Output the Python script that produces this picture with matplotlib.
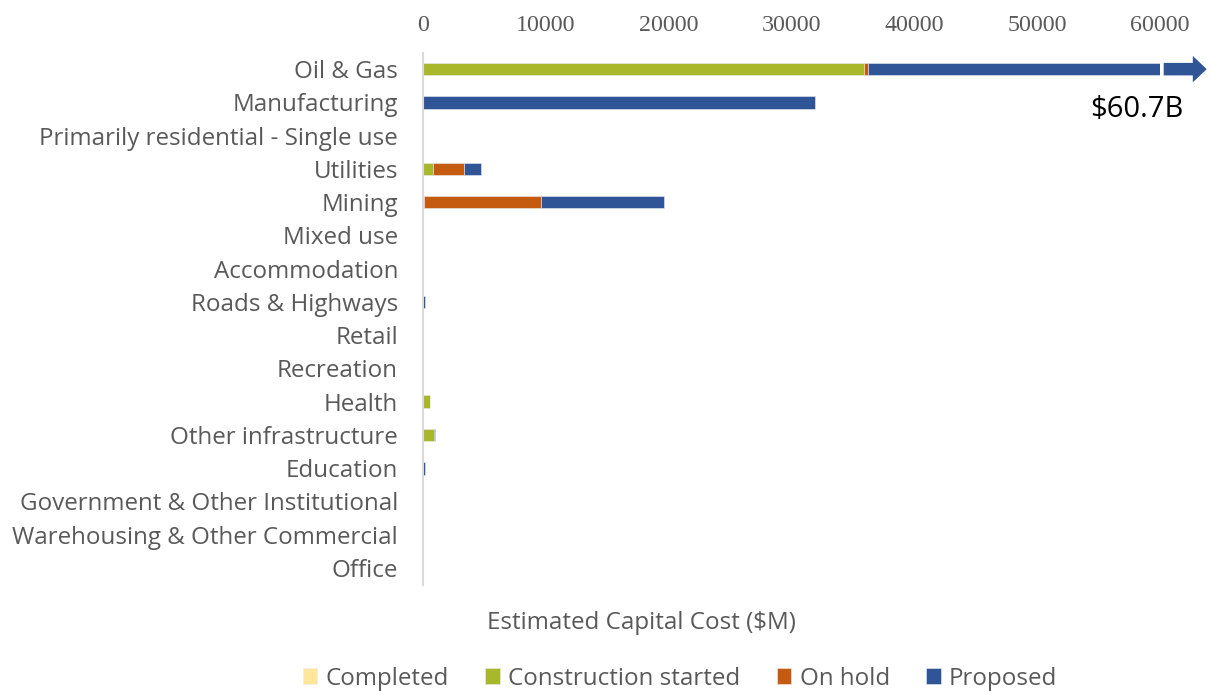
import matplotlib.pyplot as plt
import numpy as np

plt.rcParams['font.family'] = ['Open Sans', 'DejaVu Sans']

# Datos
categorias = ["Oil & Gas", "Manufacturing", "Primarily residential - Single use",
              "Utilities", "Mining", "Mixed use", "Accommodation", "Roads & Highways",
              "Retail", "Recreation", "Health", "Other infrastructure", "Education",
              "Government & Other Institutional", "Warehousing & Other Commercial", "Office"]
completed = [0, 0, 0, 0, 100, 0, 0, 0, 0, 0, 0, 0, 0, 0, 0, 0]
construction = [35940, 0, 0, 840, 0, 0, 0, 0, 0, 0, 570, 900, 0, 0, 0, 0]
on_hold = [300, 0, 0, 2530, 9520, 0, 0, 0, 0, 0, 0, 0, 0, 0, 0, 0]
proposed = [24460, 31950, 0, 1360, 10020, 0, 0, 150, 0, 0, 0, 100, 150, 0, 0, 0]
series = ["Completed", "Construction started", "On hold", "Proposed"]
colores = ["#FFE699", "#A9B82B", "#C55A11", "#2F5597"]
etiqueta_total = "$60.7B"

fig = plt.figure(figsize=(12.1, 6.91), dpi=100)
ax = fig.add_axes([0.3496, 0.154, 0.6091, 0.770])

y = np.arange(len(categorias))
izq = np.zeros(len(categorias))
for nombre, vals, col in zip(series, [completed, construction, on_hold, proposed], colores):
    vals = np.array(vals, dtype=float)
    ax.barh(y, vals, left=izq, height=0.38, color=col, label=nombre,
            edgecolor='#E8ECF4', linewidth=0.4)
    izq += vals

ax.set_xlim(0, 60000)
ax.set_ylim(len(categorias) - 0.5, -0.5)
ax.set_yticks(y)
ax.set_yticklabels(categorias, fontsize=17.4, color='#595959')
ax.xaxis.tick_top()
ax.set_xticks(range(0, 60001, 10000))
ax.set_xticklabels([str(v) for v in range(0, 60001, 10000)],
                   fontsize=17.3, color='#595959', family=['Liberation Serif'])
ax.tick_params(axis='x', length=0, pad=12)
ax.tick_params(axis='y', length=0, pad=18)
for s in ['top', 'right', 'bottom']:
    ax.spines[s].set_visible(False)
ax.spines['left'].set_color('#D9D9D9')
ax.spines['left'].set_linewidth(1.5)

# Flecha y total para Oil & Gas
ax.annotate("", xy=(63800, 0), xytext=(60300, 0),
            arrowprops=dict(arrowstyle='simple,head_width=1.9,head_length=1.0,tail_width=0.9',
                            mutation_scale=10, color='#2F5597', lw=0,
                            shrinkA=0, shrinkB=0),
            annotation_clip=False)
ax.text(58100, 1.2, etiqueta_total, fontsize=21, color='black', ha='center', va='center')

fig.text(0.530, 0.098, "Estimated Capital Cost ($M)", fontsize=17.4, color='#595959',
         ha='center', va='center')

leg = fig.legend(loc='center', bbox_to_anchor=(0.562, 0.018), ncol=4, frameon=False,
                 fontsize=17.4, labelcolor='#595959', handlelength=0.6, handleheight=0.6,
                 handletextpad=0.35, columnspacing=1.5)

plt.savefig("out.png", dpi=100)
